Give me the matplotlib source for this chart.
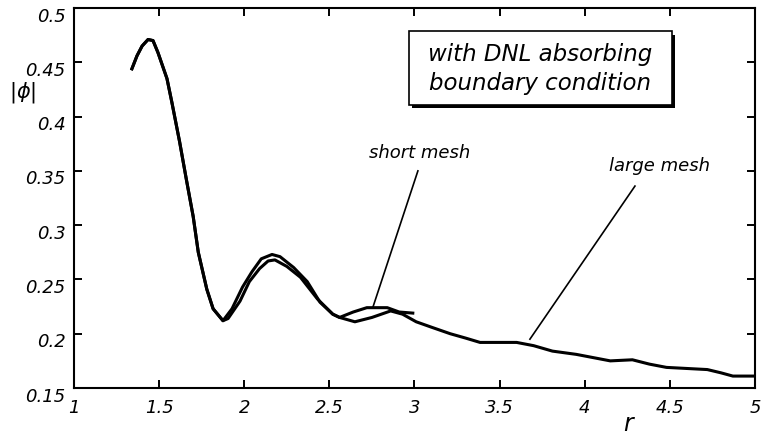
import numpy as np
import matplotlib.pyplot as plt
import matplotlib.patches as patches
from matplotlib.transforms import ScaledTranslation

# radial profiles of |phi|, both runs
r_large = [1.34, 1.37, 1.40, 1.435, 1.464, 1.493, 1.546, 1.575, 1.62, 1.66, 1.70,
           1.73, 1.78, 1.817, 1.875, 1.905, 1.975, 2.03, 2.09, 2.14, 2.18, 2.25,
           2.33, 2.43, 2.52, 2.56, 2.65, 2.75, 2.86, 2.93, 3.01, 3.10, 3.21, 3.30,
           3.385, 3.50, 3.60, 3.70, 3.81, 3.95, 4.05, 4.15, 4.28, 4.38, 4.48, 4.60,
           4.72, 4.80, 4.87, 5.0]
phi_large = [0.444, 0.456, 0.465, 0.471, 0.470, 0.459, 0.435, 0.413, 0.377, 0.342, 0.308,
             0.275, 0.241, 0.223, 0.212, 0.214, 0.230, 0.248, 0.260, 0.267, 0.268, 0.262,
             0.252, 0.232, 0.218, 0.215, 0.211, 0.215, 0.221, 0.218, 0.211, 0.206, 0.200, 0.196,
             0.192, 0.192, 0.192, 0.189, 0.184, 0.181, 0.178, 0.175, 0.176, 0.172, 0.169, 0.168,
             0.167, 0.164, 0.161, 0.161]

r_short = [1.34, 1.37, 1.40, 1.435, 1.464, 1.493, 1.546, 1.575, 1.62, 1.66, 1.70,
           1.73, 1.78, 1.817, 1.875, 1.928, 1.99, 2.045, 2.10, 2.163, 2.21, 2.29,
           2.37, 2.445, 2.52, 2.56, 2.64, 2.72, 2.84, 2.91, 2.99]
phi_short = [0.444, 0.456, 0.465, 0.471, 0.470, 0.459, 0.435, 0.413, 0.377, 0.342, 0.308,
             0.275, 0.241, 0.223, 0.212, 0.223, 0.243, 0.257, 0.269, 0.273, 0.271, 0.261,
             0.248, 0.229, 0.218, 0.215, 0.220, 0.224, 0.224, 0.220, 0.219]

xticks = [1, 1.5, 2, 2.5, 3, 3.5, 4, 4.5, 5]
yticks = [0.15, 0.2, 0.25, 0.3, 0.35, 0.4, 0.45, 0.5]

font = 'DejaVu Sans'

fig = plt.figure(figsize=(7.63, 4.35), dpi=100)
ax = fig.add_axes([0.097, 0.1057, 0.8925, 0.8736])

ax.plot(r_large, phi_large, color='black', lw=2.2, solid_joinstyle='round')
ax.plot(r_short, phi_short, color='black', lw=2.2, solid_joinstyle='round')

ax.set_xlim(1, 5)
ax.set_ylim(0.15, 0.5)
ax.set_xticks(xticks)
ax.set_yticks(yticks)
ax.set_xticklabels([f'{t:g}' for t in xticks], fontstyle='italic', family=font, fontsize=13)
ax.set_yticklabels([f'{t:g}' for t in yticks], fontstyle='italic', family=font, fontsize=13)
ax.tick_params(direction='in', length=6, width=1.4, top=True, right=True)
ax.tick_params(axis='x', pad=7)
ax.tick_params(axis='y', pad=6)
for lab in ax.get_yticklabels():
    lab.set_transform(lab.get_transform() + ScaledTranslation(0, -4 / 72, fig.dpi_scale_trans))
for s in ax.spines.values():
    s.set_linewidth(1.5)

ax.set_xlabel('r', fontstyle='italic', family=font, fontsize=17)
ax.xaxis.set_label_coords(0.813, -0.06)
ax.set_ylabel(r'$|\phi|$', fontsize=15, rotation=0)
ax.yaxis.set_label_coords(-0.076, 0.747)

# title box with drop shadow
x0, y0, w, h = 0.492, 0.745, 0.386, 0.194
ax.add_patch(patches.Rectangle((x0 + 0.005, y0 - 0.009), w, h, transform=ax.transAxes,
                               facecolor='black', edgecolor='none', zorder=3))
ax.add_patch(patches.Rectangle((x0, y0), w, h, transform=ax.transAxes,
                               facecolor='white', edgecolor='black', lw=1.2, zorder=4))
ax.text(x0 + w / 2, y0 + h / 2, 'with DNL absorbing\nboundary condition', transform=ax.transAxes,
        ha='center', va='center', fontsize=16.5, fontstyle='italic', family=font,
        linespacing=1.35, zorder=5)

# pointer labels
ax.text(3.03, 0.367, 'short mesh', ha='center', va='center', fontsize=13,
        fontstyle='italic', family=font)
ax.plot([3.02, 2.756], [0.35, 0.2246], color='black', lw=1.2)
ax.text(4.44, 0.355, 'large mesh', ha='center', va='center', fontsize=13,
        fontstyle='italic', family=font)
ax.plot([4.295, 3.678], [0.336, 0.195], color='black', lw=1.2)

fig.savefig('out.png', dpi=100)
